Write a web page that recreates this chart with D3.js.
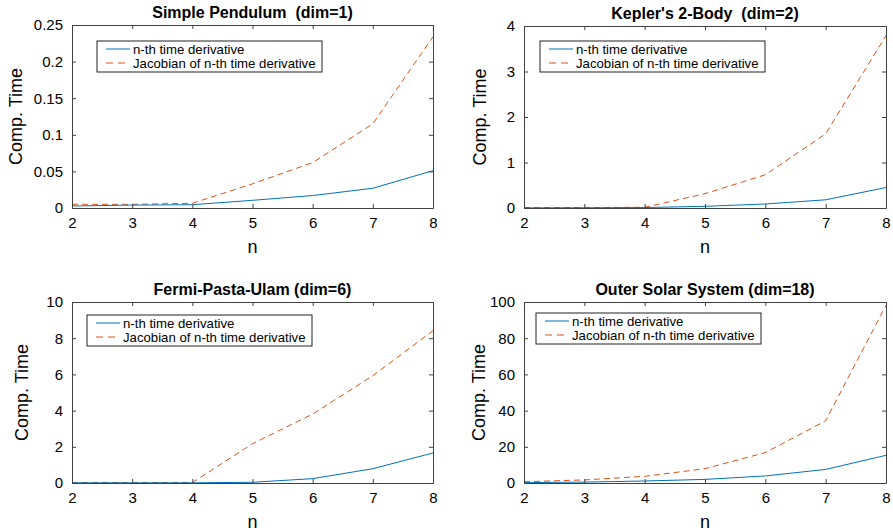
<!DOCTYPE html>
<html><head><meta charset="utf-8">
<script src="https://cdn.jsdelivr.net/npm/d3@7/dist/d3.min.js"></script>
<style>body{margin:0;background:#fff}svg{display:block}text{font-family:"Liberation Sans",Arial,Helvetica,sans-serif;white-space:pre}</style>
</head><body>
<svg id="c" width="893" height="531"></svg>
<script>
const nValues = [2, 3, 4, 5, 6, 7, 8];
const titles = ["Simple Pendulum  (dim=1)", "Kepler's 2-Body  (dim=2)", "Fermi-Pasta-Ulam (dim=6)", "Outer Solar System (dim=18)"];
const seriesNames = ["n-th time derivative", "Jacobian of n-th time derivative"];
const derivPendulum = [0.0027, 0.004, 0.0045, 0.0105, 0.017, 0.027, 0.051];
const jacobPendulum = [0.005, 0.005, 0.0065, 0.033, 0.062, 0.115, 0.234];
const derivKepler = [0.003, 0.004, 0.01, 0.037, 0.088, 0.18, 0.45];
const jacobKepler = [0.01, 0.01, 0.015, 0.315, 0.73, 1.63, 3.79];
const derivFPU = [0.01, 0.01, 0.01, 0.04, 0.24, 0.79, 1.66];
const jacobFPU = [0.02, 0.02, 0.02, 2.17, 3.81, 5.93, 8.42];
const derivSolar = [0.2, 0.5, 1.1, 2.0, 3.9, 7.5, 15.3];
const jacobSolar = [0.7, 1.7, 3.7, 7.9, 16.8, 34.4, 98.2];
const yMax = [0.25, 4, 10, 100];
const yTicks = [
  [0, 0.05, 0.1, 0.15, 0.2, 0.25],
  [0, 1, 2, 3, 4],
  [0, 2, 4, 6, 8, 10],
  [0, 20, 40, 60, 80, 100]
];
const yTickLabels = [
  ["0", "0.05", "0.1", "0.15", "0.2", "0.25"],
  ["0", "1", "2", "3", "4"],
  ["0", "2", "4", "6", "8", "10"],
  ["0", "20", "40", "60", "80", "100"]
];
const xLabel = "n", yLabel = "Comp. Time";

const derivs = [derivPendulum, derivKepler, derivFPU, derivSolar];
const jacobs = [jacobPendulum, jacobKepler, jacobFPU, jacobSolar];

const layout = [
  {l: 72, r: 433, t: 25, b: 208, yl: 16, lg: [97, 41]},
  {l: 524, r: 886, t: 26, b: 208, yl: 480, lg: [540, 41]},
  {l: 72, r: 433, t: 302, b: 483, yl: 22, lg: [87, 315]},
  {l: 524, r: 886, t: 302, b: 483, yl: 479, lg: [536, 313]}
];
const colors = ["#0072BD", "#D95319"];
const axisColor = "#404040";
const svg = d3.select("#c");

layout.forEach((L, i) => {
  const x = d3.scaleLinear().domain([2, 8]).range([L.l, L.r]);
  const y = d3.scaleLinear().domain([0, yMax[i]]).range([L.b, L.t]);
  const g = svg.append("g");

  const line = d3.line().x((d, k) => x(nValues[k])).y(d => y(d));
  g.append("path").datum(jacobs[i]).attr("d", line).attr("fill", "none")
    .attr("stroke", colors[1]).attr("stroke-width", 1).attr("stroke-dasharray", "6,4");
  g.append("path").datum(derivs[i]).attr("d", line).attr("fill", "none")
    .attr("stroke", colors[0]).attr("stroke-width", 1);

  const tl = 4;
  const bottom = d3.axisBottom(x).tickValues(nValues).tickSizeInner(-tl).tickSizeOuter(0).tickPadding(9).tickFormat(d3.format("d"));
  const top = d3.axisTop(x).tickValues(nValues).tickSizeInner(-tl).tickSizeOuter(0).tickFormat("");
  const left = d3.axisLeft(y).tickValues(yTicks[i]).tickSizeInner(-tl).tickSizeOuter(0).tickPadding(9)
    .tickFormat((d, k) => yTickLabels[i][k]);
  const right = d3.axisRight(y).tickValues(yTicks[i]).tickSizeInner(-tl).tickSizeOuter(0).tickFormat("");
  const styleAxis = sel => {
    sel.selectAll("path,line").attr("stroke", axisColor).attr("stroke-width", 1);
    sel.selectAll("text").attr("fill", "#000").style("font-size", "15px");
  };
  g.append("g").attr("transform", `translate(0,${L.b})`).call(bottom).call(styleAxis);
  g.append("g").attr("transform", `translate(0,${L.t})`).call(top).call(styleAxis);
  g.append("g").attr("transform", `translate(${L.l},0)`).call(left).call(styleAxis);
  g.append("g").attr("transform", `translate(${L.r},0)`).call(right).call(styleAxis);
  g.selectAll("g[font-family]").attr("font-family", null);

  g.append("text").attr("x", (L.l + L.r) / 2).attr("y", L.t - 7).attr("text-anchor", "middle")
    .style("font-size", "16px").style("font-weight", "bold").text(titles[i]);
  g.append("text").attr("x", (L.l + L.r) / 2).attr("y", L.b + 45).attr("text-anchor", "middle")
    .style("font-size", "18px").text(xLabel);
  g.append("text").attr("transform", `translate(${L.yl},${(L.t + L.b) / 2}) rotate(-90)`)
    .attr("text-anchor", "middle").attr("dy", "0.35em").style("font-size", "18px").text(yLabel);

  const [lx, ly] = L.lg;
  const lgG = g.append("g").attr("transform", `translate(${lx},${ly})`);
  lgG.append("rect").attr("width", 225).attr("height", 31).attr("fill", "#fff")
    .attr("stroke", "#222").attr("stroke-width", 1);
  seriesNames.forEach((name, k) => {
    const yy = 8 + k * 14;
    lgG.append("line").attr("x1", 9).attr("x2", 33).attr("y1", yy).attr("y2", yy)
      .attr("stroke", colors[k]).attr("stroke-width", 1)
      .attr("stroke-dasharray", k === 1 ? "7,5" : null);
    lgG.append("text").attr("x", 36).attr("y", yy).attr("dy", "0.35em")
      .style("font-size", "13.2px").text(name);
  });
});
</script>
</body></html>
